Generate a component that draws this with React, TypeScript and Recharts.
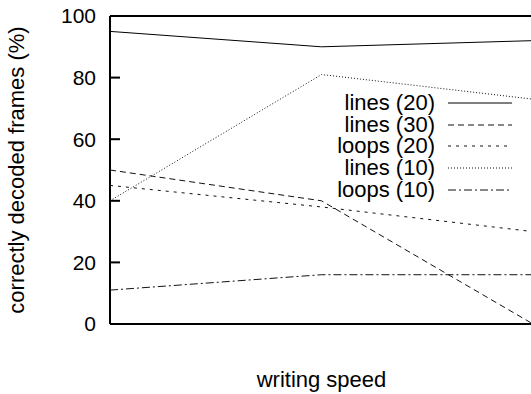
import React from "react";
import { Label, Line, LineChart, ReferenceLine, XAxis, YAxis } from "recharts";

const speeds = ["slow", "medium", "fast"];
const lines20 = [95, 90, 92];
const lines30 = [50, 40, 0];
const loops20 = [45, 38, 30];
const lines10 = [40, 81, 73];
const loops10 = [11, 16, 16];
const yTicks = [0, 20, 40, 60, 80, 100];

const series = [
  { key: "lines20", name: "lines (20)", dash: undefined, color: "#000" },
  { key: "lines30", name: "lines (30)", dash: "6 4", color: "#111" },
  { key: "loops20", name: "loops (20)", dash: "3 5", color: "#111" },
  { key: "lines10", name: "lines (10)", dash: "1 2", color: "#111" },
  { key: "loops10", name: "loops (10)", dash: "8 3 2 3", color: "#111" },
];

const data = speeds.map((s, i) => ({
  speed: s,
  lines20: lines20[i],
  lines30: lines30[i],
  loops20: loops20[i],
  lines10: lines10[i],
  loops10: loops10[i],
}));

const font = "'Liberation Sans', Arial, Helvetica, sans-serif";

// legend drawn as overlay so it takes no space from the plot
const LegendBox = () => (
  <div style={{ position: "absolute", left: 280, top: 92, width: 232, fontFamily: font, fontSize: 22, color: "#000" }}>
    {series.map((s) => (
      <div key={s.key} style={{ display: "flex", alignItems: "center", justifyContent: "flex-end", height: 21.7 }}>
        <span style={{ lineHeight: "21.7px" }}>{s.name}</span>
        <svg width={64} height={4} style={{ marginLeft: 13 }}>
          <line x1={0} y1={2} x2={64} y2={2} stroke={s.color} strokeWidth={1} strokeDasharray={s.dash} />
        </svg>
      </div>
    ))}
  </div>
);

export default function App() {
  return (
    <div style={{ position: "fixed", left: 0, top: 0, width: 531, height: 394, overflow: "hidden", background: "#fff" }}>
      <LineChart width={531} height={394} data={data} margin={{ top: 16, right: -3, bottom: 0, left: 0 }}>
        <XAxis
          dataKey="speed"
          height={70}
          tick={false}
          tickLine={false}
          axisLine={{ stroke: "#000", strokeWidth: 2 }}
        >
          <Label
            value="writing speed"
            position="insideBottom"
            offset={7}
            style={{ fontFamily: font, fontSize: 22, fill: "#000" }}
          />
        </XAxis>
        <YAxis
          yAxisId="left"
          width={110}
          domain={[0, 100]}
          ticks={yTicks}
          tickSize={-10}
          tickMargin={24}
          tickLine={{ stroke: "#000", strokeWidth: 2 }}
          axisLine={{ stroke: "#000", strokeWidth: 2 }}
          tick={{ fontFamily: font, fontSize: 21, fill: "#000" }}
        >
          <Label
            value="correctly decoded frames (%)"
            angle={-90}
            position="insideLeft"
            offset={16}
            style={{ fontFamily: font, fontSize: 22, fill: "#000", textAnchor: "middle" }}
          />
        </YAxis>
        <YAxis
          yAxisId="right"
          orientation="right"
          width={1}
          domain={[0, 100]}
          ticks={yTicks}
          tickSize={-10}
          tick={() => <g />}
          tickLine={{ stroke: "#000", strokeWidth: 2 }}
          axisLine={{ stroke: "#000", strokeWidth: 2 }}
        />
        <ReferenceLine yAxisId="left" y={100} stroke="#000" strokeWidth={2} />
        {series.map((s) => (
          <Line
            key={s.key}
            yAxisId="left"
            type="linear"
            dataKey={s.key}
            name={s.name}
            stroke={s.color}
            strokeWidth={1}
            strokeDasharray={s.dash}
            dot={false}
            activeDot={false}
            isAnimationActive={false}
          />
        ))}
      </LineChart>
      <LegendBox />
    </div>
  );
}
